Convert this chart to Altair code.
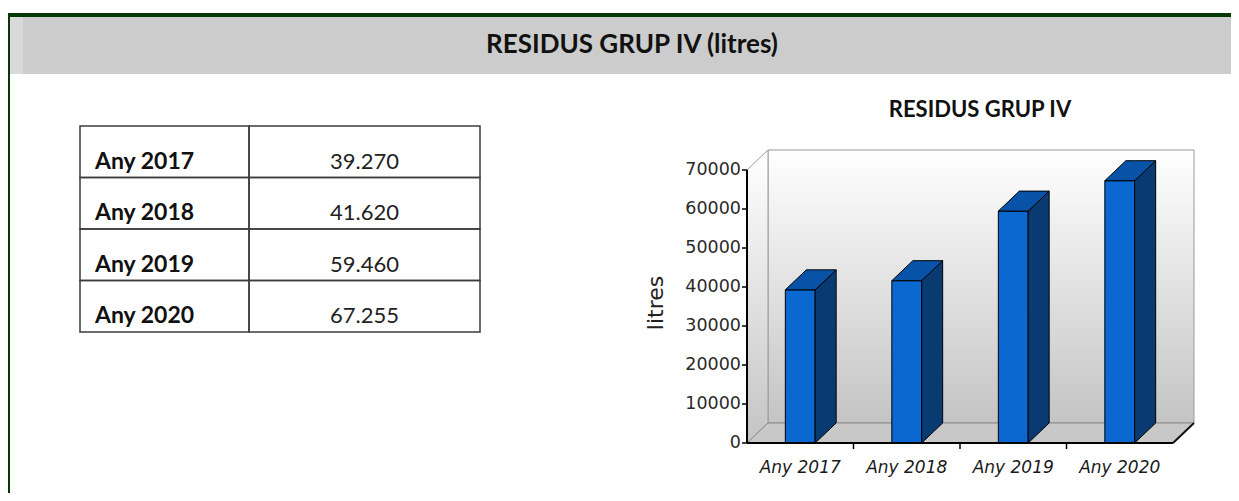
import altair as alt
import pandas as pd

# ---------------- data ----------------
years = ["Any 2017", "Any 2018", "Any 2019", "Any 2020"]
table_values = ["39.270", "41.620", "59.460", "67.255"]
litres = [39270, 41620, 59460, 67255]
y_ticks = [0, 10000, 20000, 30000, 40000, 50000, 60000, 70000]

main_title = "RESIDUS GRUP IV (litres)"
chart_title = "RESIDUS GRUP IV"
y_title = "litres"

# ---------------- layout / style ----------------
W, H = 1223, 485
n = len(years)
Y_MAX = y_ticks[-1]
X_RANGE = [739, 1165]
Y_RANGE = [435, 162]
DEPTH_X_PX, DEPTH_Y_PX = 21, 20
DX = DEPTH_X_PX / (X_RANGE[1] - X_RANGE[0]) * n
DY = DEPTH_Y_PX / (Y_RANGE[0] - Y_RANGE[1]) * Y_MAX
HALF = 0.14

FRONT = "#0a68d0"
SIDE = "#0a3a72"
TOP = "#0853a8"
GREEN = "#063806"
AXIS_FONT = "DejaVu Sans"

one = pd.DataFrame({"k": [0]})


def deco_rect(x, x2, y, y2, color):
    return alt.Chart(one).mark_rect(color=color).encode(
        x=alt.value(x), x2=alt.value(x2), y=alt.value(y), y2=alt.value(y2)
    )


def deco_text(txt, x, y, size, weight="bold", font="Lato", color="#111", angle=0):
    return alt.Chart(one).mark_text(
        text=txt, font=font, fontSize=size, fontWeight=weight, color=color,
        align="center", baseline="middle", angle=angle
    ).encode(x=alt.value(x), y=alt.value(y))


deco = [
    deco_rect(0, 1231, 5, 9, GREEN),
    deco_rect(0, 2, 5, H, GREEN),
    deco_rect(2, 1229, 9, 66, "#cccccc"),
    deco_rect(2, 15, 9, 66, "#d9d9d9"),
    deco_text(main_title, 624, 37, 26),
    deco_text(chart_title, 972, 102, 22),
    deco_text(y_title, 648, 295, 22, weight="normal", font=AXIS_FONT, color="#222", angle=270),
]

# ---------------- table ----------------
tbl = pd.DataFrame({"year": years, "val": table_values})
ty = alt.Scale(type="band", domain=years, range=[118, 324], paddingInner=0, paddingOuter=0)
yenc = alt.Y("year:N", scale=ty, axis=None)

cell_a = alt.Chart(tbl).mark_rect(fillOpacity=0, stroke="#3c3c3c", strokeWidth=1.5).encode(
    y=yenc, x=alt.value(72), x2=alt.value(241))
cell_b = alt.Chart(tbl).mark_rect(fillOpacity=0, stroke="#3c3c3c", strokeWidth=1.5).encode(
    y=yenc, x=alt.value(241), x2=alt.value(472))
txt_a = alt.Chart(tbl).mark_text(
    align="left", baseline="alphabetic", dy=17, font="Lato", fontWeight="bold",
    fontSize=23, color="#111").encode(y=yenc, x=alt.value(87), text="year:N")
txt_b = alt.Chart(tbl).mark_text(
    align="center", baseline="alphabetic", dy=17, font="Lato", fontWeight="normal",
    fontSize=22, color="#222").encode(y=yenc, x=alt.value(356.5), text="val:N")
table = alt.layer(cell_a, cell_b, txt_a, txt_b)

# ---------------- 3D bar chart ----------------
xs = alt.Scale(domain=[0, n], range=X_RANGE, nice=False, zero=False)
ys = alt.Scale(domain=[0, Y_MAX], range=Y_RANGE, nice=False, zero=False)

grad = alt.LinearGradient(
    gradient="linear",
    stops=[alt.GradientStop(offset=0, color="#ffffff"),
           alt.GradientStop(offset=1, color="#c4c4c4")],
    x1=0, x2=0, y1=0, y2=1)

wall_df = pd.DataFrame({"x0": [DX], "x1": [n + DX], "y0": [DY], "y1": [Y_MAX + DY]})
back_wall = alt.Chart(wall_df).mark_rect(fill=grad, stroke="#9a9a9a", strokeWidth=1).encode(
    x=alt.X("x0:Q", scale=xs, axis=None), x2="x1:Q",
    y=alt.Y("y0:Q", scale=ys, axis=None), y2="y1:Q")

lw_df = pd.DataFrame({"x": [0, DX], "y": [Y_MAX, Y_MAX + DY], "y2": [0, DY]})
left_wall = alt.Chart(lw_df).mark_area(fill=grad, stroke="#9a9a9a", strokeWidth=1).encode(
    x=alt.X("x:Q", scale=xs, axis=None),
    y=alt.Y("y:Q", scale=ys, axis=None, stack=False), y2="y2:Q")

fl_df = pd.DataFrame({"x": [0, DX, n, n + DX], "y": [0, DY, DY, DY], "y2": [0, 0, 0, DY]})
floor = alt.Chart(fl_df).mark_area(color="#c8c8c8", stroke="#8a8a8a", strokeWidth=1).encode(
    x=alt.X("x:Q", scale=xs, axis=None),
    y=alt.Y("y:Q", scale=ys, axis=None, stack=False), y2="y2:Q")

edge_df = pd.DataFrame({"x": [n], "x2": [n + DX], "y": [0], "y2": [DY]})
floor_edge = alt.Chart(edge_df).mark_rule(color="#111", strokeWidth=2).encode(
    x=alt.X("x:Q", scale=xs, axis=None), x2="x2:Q",
    y=alt.Y("y:Q", scale=ys, axis=None), y2="y2:Q")

# axis lines (through the scales)
xdom_df = pd.DataFrame({"a": [0], "b": [n]})
x_domain = alt.Chart(xdom_df).mark_rule(color="#000", strokeWidth=2).encode(
    x=alt.X("a:Q", scale=xs, axis=None), x2="b:Q", y=alt.value(Y_RANGE[0]))
ydom_df = pd.DataFrame({"a": [0], "b": [Y_MAX]})
y_domain = alt.Chart(ydom_df).mark_rule(color="#000", strokeWidth=2).encode(
    y=alt.Y("a:Q", scale=ys, axis=None), y2="b:Q", x=alt.value(X_RANGE[0]))

tick_df = pd.DataFrame({"t": list(range(1, n))})
xticks = alt.Chart(tick_df).mark_rule(color="#000", strokeWidth=1.5).encode(
    x=alt.X("t:Q", scale=xs, axis=None), y=alt.value(Y_RANGE[0]), y2=alt.value(Y_RANGE[0] + 6))

ytick_df = pd.DataFrame({"t": y_ticks, "lab": [str(t) for t in y_ticks]})
yticks = alt.Chart(ytick_df).mark_rule(color="#000", strokeWidth=1.5).encode(
    y=alt.Y("t:Q", scale=ys, axis=None), x=alt.value(X_RANGE[0] - 5), x2=alt.value(X_RANGE[0]))
ylabels = alt.Chart(ytick_df).mark_text(
    align="right", baseline="middle", font=AXIS_FONT, fontSize=17.5, color="#2a2a2a").encode(
    y=alt.Y("t:Q", scale=ys, axis=None), x=alt.value(X_RANGE[0] - 6), text="lab:N")

front_df = pd.DataFrame({
    "bar": years,
    "c": [i + 0.5 for i in range(n)],
    "x0": [i + 0.5 - HALF for i in range(n)],
    "x1": [i + 0.5 + HALF for i in range(n)],
    "v": litres,
    "base": [0] * n,
})
xlabels = alt.Chart(front_df).mark_text(
    align="center", baseline="middle", font=AXIS_FONT, fontStyle="italic", fontSize=17,
    color="#1a1a1a").encode(
    x=alt.X("c:Q", scale=xs, axis=None), y=alt.value(Y_RANGE[0] + 25), text="bar:N")

front = alt.Chart(front_df).mark_rect(color=FRONT, stroke="#000", strokeWidth=1).encode(
    x=alt.X("x0:Q", scale=xs, axis=None), x2="x1:Q",
    y=alt.Y("v:Q", scale=ys, axis=None), y2="base:Q")

side_rows, top_rows = [], []
for i, (b, v) in enumerate(zip(years, litres)):
    x0, x1 = i + 0.5 - HALF, i + 0.5 + HALF
    side_rows += [dict(bar=b, x=x1, y=v, y2=0), dict(bar=b, x=x1 + DX, y=v + DY, y2=DY)]
    top_rows += [dict(bar=b, x=x0, y=v, y2=v), dict(bar=b, x=x0 + DX, y=v + DY, y2=v),
                 dict(bar=b, x=x1, y=v + DY, y2=v), dict(bar=b, x=x1 + DX, y=v + DY, y2=v + DY)]

side = alt.Chart(pd.DataFrame(side_rows)).mark_area(color=SIDE, stroke="#000", strokeWidth=1).encode(
    x=alt.X("x:Q", scale=xs, axis=None),
    y=alt.Y("y:Q", scale=ys, axis=None, stack=False), y2="y2:Q", detail="bar:N")
top = alt.Chart(pd.DataFrame(top_rows)).mark_area(color=TOP, stroke="#000", strokeWidth=1).encode(
    x=alt.X("x:Q", scale=xs, axis=None),
    y=alt.Y("y:Q", scale=ys, axis=None, stack=False), y2="y2:Q", detail="bar:N")

bars = alt.layer(back_wall, left_wall, floor, floor_edge, front, side, top,
                 x_domain, y_domain, xticks, yticks, ylabels, xlabels)

chart = alt.layer(*deco, table, bars).resolve_scale(
    x="independent", y="independent"
).properties(
    width=W, height=H, padding=0,
    autosize=alt.AutoSizeParams(type="none"),
    background="#ffffff",
).configure_view(stroke=None)

chart.save("out.html", embed_options={"renderer": "svg", "actions": False})
